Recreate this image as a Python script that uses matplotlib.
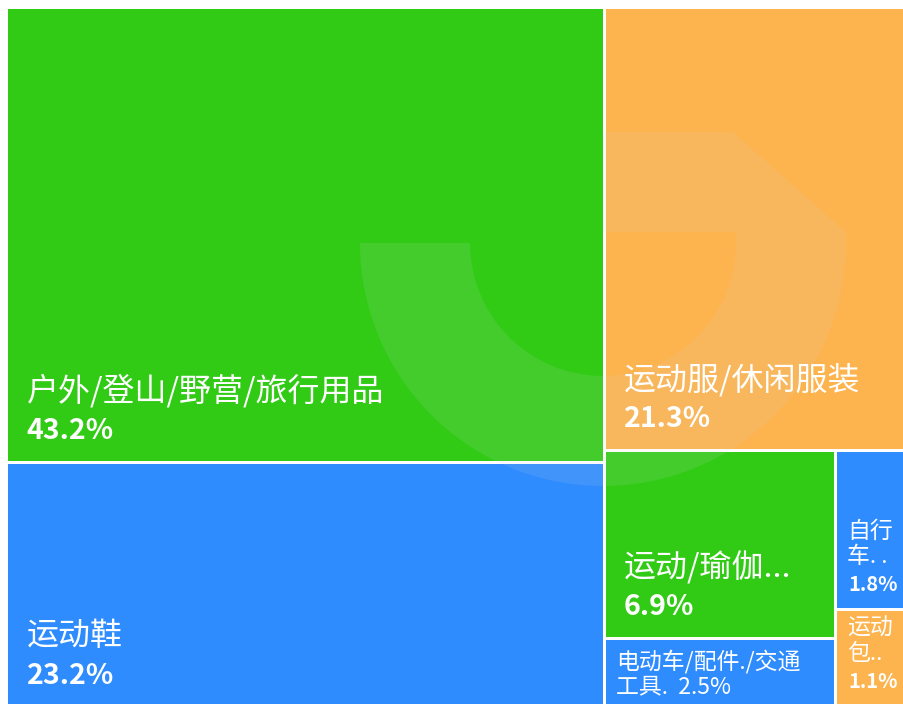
import math
import matplotlib
matplotlib.use("Agg")
import matplotlib.pyplot as plt
from matplotlib.patches import Rectangle, Wedge, Polygon

plt.rcParams['font.family'] = ['Noto Sans CJK SC', 'DejaVu Sans']

# ---- data (share of sales, %) ----
names = ['户外/登山/野营/旅行用品', '运动鞋', '运动服/休闲服装', '运动/瑜伽...',
         '电动车/配件./交通\n工具.', '自行\n车. .', '运动\n包..']
shares = [43.2, 23.2, 21.3, 6.9, 2.5, 1.8, 1.1]
colors = ['#31cb16', '#2e8cff', '#fdb34e', '#31cb16', '#2e8cff', '#2e8cff', '#fdb34e']


# squarified layout, same rule as echarts treemap (golden square ratio)
def worst(areas, side, ratio):
    s = sum(areas)
    f = side * side * ratio
    return max(f * max(areas) / (s * s), (s * s) / (f * min(areas)))


def place(idx, areas, side, rect, gap, flush, out):
    horiz = side == rect[2]
    row_area = sum(areas[k] for k in idx)
    other = row_area / side
    if flush or other > (rect[3] if horiz else rect[2]):
        other = rect[3] if horiz else rect[2]
    last = rect[0] if horiz else rect[1]
    end = last + (rect[2] if horiz else rect[3])
    for n, k in enumerate(idx):
        step = areas[k] / other
        remain = end - last
        mod = remain if (n == len(idx) - 1 or remain < step) else step
        if horiz:
            out[k] = (last + gap, rect[1] + gap, mod - 2 * gap, other - 2 * gap)
        else:
            out[k] = (rect[0] + gap, last + gap, other - 2 * gap, mod - 2 * gap)
        last += mod
    if horiz:
        rect[1] += other
        rect[3] -= other
    else:
        rect[0] += other
        rect[2] -= other


def squarify(vals, x, y, w, h, gap=1.5, ratio=0.5 * (1 + math.sqrt(5))):
    scale = w * h / sum(vals)
    areas = [v * scale for v in vals]
    rect = [x, y, w, h]
    out = [None] * len(vals)
    row = []
    score = math.inf
    side = min(w, h)
    i = 0
    while i < len(areas):
        row.append(i)
        s2 = worst([areas[k] for k in row], side, ratio)
        if s2 <= score:
            i += 1
            score = s2
        else:
            row.pop()
            place(row, areas, side, rect, gap, False, out)
            side = min(rect[2], rect[3])
            row = []
            score = math.inf
    if row:
        place(row, areas, side, rect, gap, True, out)
    return out


fig = plt.figure(figsize=(9.04, 7.04), dpi=100)
ax = fig.add_axes([0, 0, 1, 1])
ax.set_xlim(0, 904)
ax.set_ylim(704, 0)
ax.axis('off')

rects = squarify(shares, 7, 7, 900, 700)

for (x, y, w, h), c in zip(rects, colors):
    ax.add_patch(Rectangle((x, y), w, h, facecolor=c, edgecolor='none', zorder=1))

# faint logo watermark
wm = dict(facecolor='#d8d8d8', edgecolor='none', alpha=0.11, zorder=2)
ax.add_patch(Wedge((603, 243), 243, 0, 180, width=110, **wm))
ax.add_patch(Polygon([(603, 132), (733, 132), (846, 232), (846, 243),
                      (736, 243), (736, 232), (603, 232)], closed=True, **wm))

for (x, y, w, h), name, v in zip(rects, names, shares):
    pct = f'{v}%'
    y1 = min(y + h, 704 + 4)
    if w > 150 and h > 150:
        padx, pady, pitch = 18, 22, 38
        ax.text(x + padx, y1 - pady, pct, color='white', fontsize=20.5,
                fontweight='bold', va='baseline', ha='left', zorder=3)
        ax.text(x + padx, y1 - pady - pitch, name, color='white', fontsize=23,
                va='baseline', ha='left', zorder=3)
    elif h < 80:
        # short box: name and value run together, centred vertically
        ax.text(x + 10, y + h / 2 + 1, name + '  ' + pct, color='white',
                fontsize=16.5, va='center', ha='left', linespacing=1.15, zorder=3)
    else:
        ax.text(x + 11, y1 - 17, pct, color='white', fontsize=14.5,
                fontweight='bold', va='baseline', ha='left', zorder=3)
        ax.text(x + 10, y1 - 17 - 28, name, color='white', fontsize=16.5,
                va='baseline', ha='left', linespacing=1.15, zorder=3)

fig.savefig('out.png', dpi=100, facecolor='white')
